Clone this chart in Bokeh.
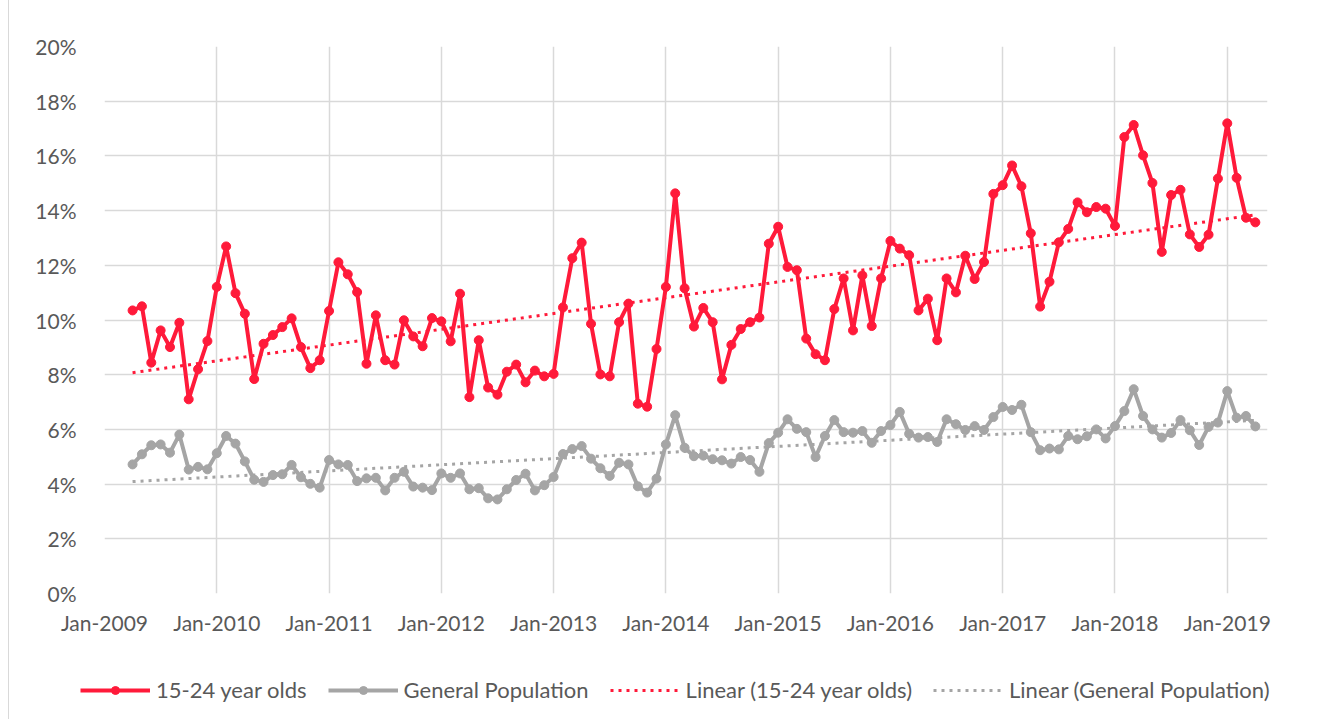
import numpy as np
from bokeh.plotting import figure
from bokeh.layouts import column
from bokeh.models import Range1d, FixedTicker, PrintfTickFormatter, Legend, LegendItem, ColumnDataSource
from bokeh.embed import file_html
from bokeh.resources import INLINE

# ---- data -------------------------------------------------------------
FIRST_MONTH_INDEX = 3          # Apr-2009, counted in months from Jan-2009
SERIES_NAMES = ["15-24 year olds", "General Population",
                "Linear (15-24 year olds)", "Linear (General Population)"]

youth = [
    10.35, 10.50, 8.44, 9.62, 9.01, 9.90, 7.10, 8.20, 9.23,
    11.21, 12.69, 10.98, 10.23, 7.84, 9.13, 9.45, 9.74, 10.06, 9.01, 8.24, 8.53,
    10.33, 12.11, 11.67, 11.02, 8.40, 10.17, 8.53, 8.37, 9.99, 9.40, 9.04, 10.07,
    9.95, 9.22, 10.96, 7.18, 9.26, 7.53, 7.27, 8.11, 8.37, 7.72, 8.15, 7.94,
    8.03, 10.46, 12.26, 12.83, 9.86, 8.01, 7.94, 9.92, 10.60, 6.94, 6.83, 8.94,
    11.21, 14.63, 11.16, 9.76, 10.44, 9.92, 7.83, 9.09, 9.67, 9.92, 10.09, 12.79,
    13.41, 11.94, 11.82, 9.32, 8.75, 8.53, 10.40, 11.52, 9.62, 11.63, 9.78, 11.52,
    12.89, 12.61, 12.37, 10.35, 10.78, 9.26, 11.52, 11.01, 12.35, 11.50, 12.12, 14.61,
    14.93, 15.65, 14.89, 13.17, 10.49, 11.40, 12.84, 13.33, 14.30, 13.94, 14.13, 14.07,
    13.44, 16.69, 17.13, 16.02, 15.01, 12.49, 14.57, 14.76, 13.13, 12.67, 13.12, 15.17,
    17.19, 15.20, 13.74, 13.57,
]

general = [
    4.72, 5.09, 5.42, 5.45, 5.15, 5.81, 4.53, 4.63, 4.54,
    5.13, 5.76, 5.48, 4.83, 4.16, 4.08, 4.33, 4.36, 4.70, 4.25, 4.01, 3.87,
    4.88, 4.72, 4.70, 4.11, 4.21, 4.23, 3.77, 4.23, 4.45, 3.91, 3.87, 3.78,
    4.39, 4.23, 4.39, 3.81, 3.85, 3.48, 3.44, 3.81, 4.15, 4.38, 3.77, 3.96,
    4.26, 5.10, 5.28, 5.39, 4.93, 4.58, 4.30, 4.78, 4.72, 3.92, 3.69, 4.20,
    5.45, 6.52, 5.33, 5.02, 5.04, 4.91, 4.87, 4.75, 4.99, 4.88, 4.45, 5.50,
    5.88, 6.37, 6.02, 5.90, 4.99, 5.76, 6.34, 5.90, 5.88, 5.94, 5.51, 5.94,
    6.16, 6.64, 5.84, 5.70, 5.72, 5.54, 6.37, 6.19, 5.98, 6.12, 5.98, 6.45,
    6.82, 6.71, 6.90, 5.90, 5.24, 5.30, 5.27, 5.76, 5.64, 5.75, 6.00, 5.67,
    6.12, 6.67, 7.47, 6.49, 6.00, 5.70, 5.87, 6.34, 5.97, 5.43, 6.09, 6.25,
    7.40, 6.43, 6.49, 6.11,
]

TICK_MONTHS = [0, 12, 24, 36, 48, 60, 72, 84, 96, 108, 120]
TICK_LABELS = ["Jan-2009", "Jan-2010", "Jan-2011", "Jan-2012", "Jan-2013", "Jan-2014",
               "Jan-2015", "Jan-2016", "Jan-2017", "Jan-2018", "Jan-2019"]
Y_TICKS = [0, 2, 4, 6, 8, 10, 12, 14, 16, 18, 20]

# ---- style ------------------------------------------------------------
RED = "#FF1A3A"
GRAY = "#A5A5A5"
TEXT = "#595959"
GRID = "#D9D9D9"
FONT = "Lato"
BOX_STYLE = {"margin-left": "8px", "border-left": "1px solid #D9D9D9"}

months = np.arange(FIRST_MONTH_INDEX, FIRST_MONTH_INDEX + len(youth))
src = ColumnDataSource(dict(x=months, youth=youth, general=general))

# linear trend lines (least squares, like Excel's "Linear" trendline)
ky, by = np.polyfit(months, youth, 1)
kg, bg = np.polyfit(months, general, 1)
tx = [months[0], months[-1]]
trend_src = ColumnDataSource(dict(x=tx,
                                  ty=[ky * t + by for t in tx],
                                  tg=[kg * t + bg for t in tx]))

TREND_KW = dict(line_width=3, line_dash="3 5")


def draw_series(fig):
    """Draw the four series on a figure, return the renderers for the legend."""
    r_tg = fig.line("x", "tg", source=trend_src, line_color=GRAY, **TREND_KW)
    r_ty = fig.line("x", "ty", source=trend_src, line_color=RED, **TREND_KW)
    r_gl = fig.line("x", "general", source=src, line_color=GRAY, line_width=4)
    r_gm = fig.scatter("x", "general", source=src, size=9, fill_color=GRAY, line_color=GRAY)
    r_yl = fig.line("x", "youth", source=src, line_color=RED, line_width=4)
    r_ym = fig.scatter("x", "youth", source=src, size=9, fill_color=RED, line_color=RED)
    return [[r_yl, r_ym], [r_gl, r_gm], [r_ty], [r_tg]]


p = figure(width=1311, height=653, output_backend="svg", toolbar_location=None,
           x_range=Range1d(0, 124.3), y_range=Range1d(0, 20),
           min_border_left=95, min_border_right=53, min_border_top=46, min_border_bottom=60)
p.frame_align = False
p.styles = BOX_STYLE
p.outline_line_color = None
p.background_fill_color = "white"
p.border_fill_color = "white"

p.xaxis.ticker = FixedTicker(ticks=TICK_MONTHS)
p.xaxis.major_label_overrides = {m: lab for m, lab in zip(TICK_MONTHS, TICK_LABELS)}
p.yaxis.ticker = FixedTicker(ticks=Y_TICKS)
p.yaxis.formatter = PrintfTickFormatter(format="%d%%")
for ax in (p.xaxis, p.yaxis):
    ax.axis_line_color = None
    ax.major_tick_line_color = None
    ax.minor_tick_line_color = None
    ax.major_label_text_font = FONT
    ax.major_label_text_font_size = "21px"
    ax.major_label_text_color = TEXT
p.xaxis.major_label_standoff = 10
p.yaxis.major_label_standoff = 22

p.xgrid.ticker = FixedTicker(ticks=TICK_MONTHS)
p.ygrid.ticker = FixedTicker(ticks=Y_TICKS)
for g in (p.xgrid, p.ygrid):
    g.grid_line_color = GRID
    g.grid_line_width = 1.5

draw_series(p)

# ---- legend strip below the chart (series drawn out of view) ---------
q = figure(width=1311, height=66, output_backend="svg", toolbar_location=None,
           x_range=Range1d(-2, -1), y_range=Range1d(-2, -1),
           x_axis_location=None, y_axis_location=None,
           min_border_left=0, min_border_right=0, min_border_top=0, min_border_bottom=0)
q.frame_align = False
q.styles = BOX_STYLE
q.outline_line_color = None
q.grid.visible = False
q.border_fill_color = "white"
q.background_fill_color = "white"

legend_renderers = draw_series(q)
legend = Legend(items=[LegendItem(label=name, renderers=rs)
                       for name, rs in zip(SERIES_NAMES, legend_renderers)],
                orientation="horizontal", location=(71, 16))
legend.glyph_width = 70
legend.glyph_height = 20
legend.label_standoff = 6
legend.spacing = 21
legend.padding = 0
legend.margin = 0
legend.border_line_color = None
legend.background_fill_alpha = 0
legend.label_text_font = FONT
legend.label_text_font_size = "22px"
legend.label_text_color = TEXT
q.add_layout(legend, "center")

open("out.html", "w").write(file_html(column(p, q), INLINE))
